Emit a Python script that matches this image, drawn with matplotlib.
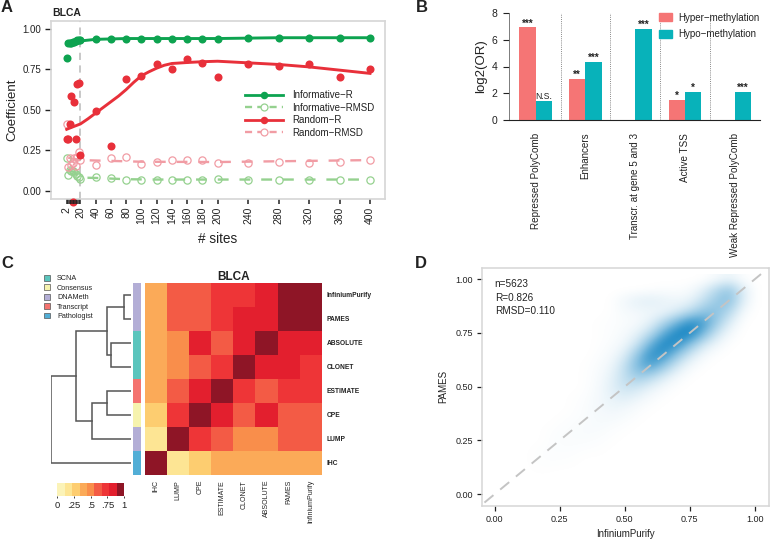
import numpy as np
import matplotlib
matplotlib.use("Agg")
import matplotlib.pyplot as plt
from matplotlib.colors import ListedColormap, BoundaryNorm, LinearSegmentedColormap
from matplotlib.lines import Line2D
from matplotlib.patches import Patch

plt.rcParams['font.family'] = ['Liberation Sans', 'DejaVu Sans']

W, H = 770, 539

# panel A
sites = [2, 4, 6, 8, 10, 12, 14, 16, 18, 20, 40, 60, 80, 100, 120, 140, 160, 180, 200, 240, 280, 320, 360, 400]
site_ticks = [2, 20, 40, 60, 80, 100, 120, 140, 160, 180, 200, 240, 280, 320, 360, 400]
inf_r = [.82, .915, .91, .915, .92, .92, .925, .93, .93, .93, .94, .94, .94, .94, .94, .94, .94, .94, .94, .945, .945, .945, .945, .945]
inf_rmsd = [.205, .10, .13, .125, .12, .115, .105, .09, .085, .075, .085, .08, .07, .07, .07, .07, .07, .07, .075, .07, .07, .07, .07, .07]
ran_r = [.32, .32, .41, .585, -.07, .55, .32, .66, .665, .22, .49, .28, .69, .71, .78, .755, .815, .79, .70, .78, .77, .785, .70, .755]
ran_rmsd = [.415, .15, .20, .16, .17, .20, .155, .21, .24, .19, .16, .20, .21, .165, .18, .19, .19, .19, .175, .17, .18, .175, .18, .19]
inf_fit_x = [2, 10, 20, 40, 80, 120, 200, 280, 400]
inf_fit_y = [.915, .92, .925, .935, .94, .94, .94, .945, .945]
ran_fit_x = [2, 10, 20, 30, 40, 50, 60, 70, 80, 90, 100, 110, 120, 130, 140, 160, 180, 200, 240, 280, 320, 360, 400]
ran_fit_y = [.38, .395, .413, .445, .48, .515, .55, .585, .625, .67, .71, .735, .757, .775, .786, .792, .797, .80, .79, .78, .765, .745, .725]
inf_rmsd_fit_x = [4, 12, 20, 40, 80, 120, 400]
inf_rmsd_fit_y = [.13, .115, .082, .08, .072, .07, .07]
ran_rmsd_fit_x = [4, 20, 60, 100, 200, 400]
ran_rmsd_fit_y = [.205, .19, .185, .18, .178, .19]

# panel B
regions = ["Repressed PolyComb", "Enhancers", "Transcr. at gene 5 and 3", "Active TSS", "Weak Repressed PolyComb"]
hyper = [6.9, 3.07, 0, 1.5, 0]
hypo = [1.47, 4.35, 6.78, 2.1, 2.12]
hyper_sig = ["***", "**", "", "*", ""]
hypo_sig = ["N.S.", "***", "***", "*", "***"]

# panel C
methods = ["InfiniumPurify", "PAMES", "ABSOLUTE", "CLONET", "ESTIMATE", "CPE", "LUMP", "IHC"]
corr = [
    [.40, .60, .60, .70, .70, .80, 1.0, 1.0],
    [.40, .60, .60, .70, .80, .80, 1.0, 1.0],
    [.40, .50, .80, .60, .80, 1.0, .80, .80],
    [.40, .50, .60, .70, 1.0, .80, .80, .70],
    [.40, .60, .80, 1.0, .70, .60, .70, .70],
    [.30, .70, 1.0, .80, .60, .80, .60, .60],
    [.15, 1.0, .70, .60, .50, .50, .60, .60],
    [1.0, .15, .30, .40, .40, .40, .40, .40],
]
heat_colors = ['#FBF3B8', '#FDE594', '#FDCD70', '#FBAA58', '#F98E4B', '#F35B45', '#EE3537', '#E31F2E', '#8E1526']
source_names = ["SCNA", "Consensus", "DNAMeth", "Transcript", "Pathologist"]
source_colors = ['#5BC5BD', '#F6F3AE', '#B3AED6', '#F4736F', '#52AED6']
row_source = [2, 2, 0, 0, 3, 1, 2, 4]
# top-to-bottom row merges: (first position, second position, height of merge)
merges = [(0.5, 1.5, .08), (2.5, 3.5, .25), (1.0, 3.0, .30), (4.5, 5.5, .30), (5.0, 6.5, .49), (2.0, 5.75, .69), (3.875, 7.5, 1.0)]
merge_child_h = [(0, 0), (0, 0), (.08, .25), (0, 0), (.30, 0), (.30, .49), (.69, 0)]

# panel D, density: rows y=1.00 down to 0.05, columns x=0.00..1.00 by .05
density = [
    [0, 0, 0, 0, 0, 0, 0, 0, 0, 0, 0, 0, 0, 0, 0, 0, 0, .4, 1.0, .2, 0],
    [0, 0, 0, 0, 0, 0, 0, 0, 0, 0, 0, 0, .1, .2, .2, .4, 1.5, 4.0, 6.0, 2.0, 0],
    [0, 0, 0, 0, 0, 0, 0, 0, 0, .1, .8, 1.5, 1.7, 1.3, .9, 1.2, 3.2, 5.5, 6.5, 1.8, 0],
    [0, 0, 0, 0, 0, 0, 0, 0, 0, .1, .5, .7, .8, .9, 1.8, 3.6, 6.0, 6.5, 4.0, .6, 0],
    [0, 0, 0, 0, 0, 0, 0, 0, .1, .2, .3, .5, 1.4, 4.0, 7.5, 11.0, 10.0, 5.5, 1.8, .1, 0],
    [0, 0, 0, 0, 0, 0, 0, 0, .1, .2, .5, 1.3, 3.6, 8.5, 12.0, 12.5, 7.5, 2.8, .6, 0, 0],
    [0, 0, 0, 0, 0, 0, 0, 0, .1, .3, .8, 2.8, 8.0, 12.0, 11.0, 6.5, 2.6, .8, .1, 0, 0],
    [0, 0, 0, 0, 0, 0, 0, 0, .2, .5, 1.8, 6.0, 11.0, 10.5, 6.0, 2.4, .6, .1, 0, 0, 0],
    [0, 0, 0, 0, 0, 0, 0, .1, .3, .9, 3.2, 7.5, 9.5, 6.0, 2.4, .6, .1, 0, 0, 0, 0],
    [0, 0, 0, 0, 0, 0, 0, .1, .4, 1.3, 3.5, 5.5, 4.2, 2.0, .6, .1, 0, 0, 0, 0, 0],
    [0, 0, 0, 0, 0, 0, 0, .1, .5, 1.6, 3.0, 2.6, 1.3, .5, .1, 0, 0, 0, 0, 0, 0],
    [0, 0, 0, 0, 0, 0, .1, .2, .6, 1.3, 1.7, 1.0, .4, .1, 0, 0, 0, 0, 0, 0, 0],
    [0, 0, 0, 0, 0, 0, .1, .3, .6, .9, .7, .3, .1, 0, 0, 0, 0, 0, 0, 0, 0],
    [0, 0, 0, 0, 0, .1, .2, .3, .5, .5, .3, .1, 0, 0, 0, 0, 0, 0, 0, 0, 0],
    [0, 0, 0, 0, .1, .2, .3, .4, .4, .2, .1, 0, 0, 0, 0, 0, 0, 0, 0, 0, 0],
    [0, 0, 0, 0, .1, .3, .3, .3, .2, .1, 0, 0, 0, 0, 0, 0, 0, 0, 0, 0, 0],
    [0, 0, 0, .1, .2, .2, .2, .1, .1, 0, 0, 0, 0, 0, 0, 0, 0, 0, 0, 0, 0],
    [0, 0, 0, .1, .15, .15, .1, 0, 0, 0, 0, 0, 0, 0, 0, 0, 0, 0, 0, 0, 0],
    [0, 0, 0, .05, .05, 0, 0, 0, 0, 0, 0, 0, 0, 0, 0, 0, 0, 0, 0, 0, 0],
    [0, 0, 0, 0, 0, 0, 0, 0, 0, 0, 0, 0, 0, 0, 0, 0, 0, 0, 0, 0, 0],
]


def px_axes(left, top, right, bottom):
    return fig.add_axes([left / W, 1 - bottom / H, (right - left) / W, (bottom - top) / H])


GREEN, LGREEN, RED, PINK = '#0DA350', '#95D18F', '#E8303A', '#F19CA4'
GRAY = '#D6D6D6'
INK = '#222222'

fig = plt.figure(figsize=(W / 100, H / 100), dpi=100)

for label, x, y in [("A", 1, 7), ("B", 416, 7), ("C", 1, 264), ("D", 415, 263)]:
    fig.text(x / W, 1 - y / H, label, fontsize=12, fontweight='bold', ha='left', va='center', color=INK)

#-------------------------------------------------------------------------------
# A: coefficient against number of sites
ax = px_axes(51, 20.7, 385, 199)
ax.set_xlim(-18.6, 419.7)
ax.set_ylim(-.05, 1.05)
ax.axvline(20, color='#C4C4C4', lw=1.3, dashes=(4, 3), zorder=1)
ax.plot(inf_rmsd_fit_x, inf_rmsd_fit_y, color=LGREEN, lw=1.7, dashes=(4.6, 4.6), zorder=2)
ax.plot(ran_rmsd_fit_x, ran_rmsd_fit_y, color=PINK, lw=1.7, dashes=(4.6, 4.6), zorder=2)
ax.plot(sites, inf_rmsd, 'o', mfc='none', mec=LGREEN, ms=5.2, mew=.9, zorder=3)
ax.plot(sites, ran_rmsd, 'o', mfc='none', mec=PINK, ms=5.2, mew=.9, zorder=3)
ax.plot(sites, inf_r, 'o', color=GREEN, ms=5.8, mew=0, zorder=4)
ax.plot(sites, ran_r, 'o', color=RED, ms=5.8, mew=0, zorder=4)
# the one random-R value below the frame sits under the tick rug
ax.plot([s for s, v in zip(sites, ran_r) if v < 0], [v for v in ran_r if v < 0], 'o', color=RED, ms=5.8, mew=0, zorder=1, clip_on=False)
ax.plot(inf_fit_x, inf_fit_y, color=GREEN, lw=2.1, zorder=4)
ax.plot(ran_fit_x, ran_fit_y, color=RED, lw=2.1, zorder=4)
ax.set_xticks(site_ticks)
ax.set_xticks([4, 6, 8, 10, 12, 14, 16, 18], minor=True)
ax.tick_params(axis='x', which='both', length=3.5, width=1.1, color=INK, labelsize=7.5, labelrotation=90, pad=2, labelcolor=INK)
ax.set_yticks([0, .25, .5, .75, 1])
ax.set_yticklabels(["0.00", "0.25", "0.50", "0.75", "1.00"])
ax.tick_params(axis='y', length=4, width=1, color=INK, labelsize=7, labelcolor=INK, pad=3)
for s in ax.spines.values():
    s.set_color(GRAY)
    s.set_linewidth(1.2)
ax.set_xlabel("# sites", fontsize=9.8, color=INK, labelpad=5.5)
ax.set_ylabel("Coefficient", fontsize=9.5, color=INK, labelpad=3)
fig.text(52 / W, 1 - 13.5 / H, "BLCA", fontsize=7.5, fontweight='bold', va='center', color=INK)
handles = [
    Line2D([], [], color=GREEN, lw=2, marker='o', ms=5.4, mew=0),
    Line2D([], [], color=LGREEN, lw=1.7, dashes=(3, 2.2), marker='o', ms=5, mfc='white', mec=LGREEN, mew=.9),
    Line2D([], [], color=RED, lw=2, marker='o', ms=5.4, mew=0),
    Line2D([], [], color=PINK, lw=1.7, dashes=(3, 2.2), marker='o', ms=5, mfc='white', mec=PINK, mew=.9),
]
ax.legend(handles, ["Informative\u2212R", "Informative\u2212RMSD", "Random\u2212R", "Random\u2212RMSD"],
          loc='upper left', bbox_to_anchor=(.58, .61), frameon=False, fontsize=7.05, labelcolor=INK,
          handlelength=3.9, handletextpad=.95, labelspacing=.25, borderpad=0, borderaxespad=0)

#-------------------------------------------------------------------------------
# B: enrichment bars
ax = px_axes(509.3, 12.7, 759.5, 120.3)
ax.set_ylim(0, 8)
ax.set_xlim(-.53, 4.495)
pos = np.arange(len(regions))
ax.bar(pos - .165, hyper, width=.33, color='#F57575')
ax.bar(pos + .165, hypo, width=.33, color='#08B2BA')
for i in range(len(regions)):
    if hyper_sig[i]:
        ax.text(pos[i] - .165, hyper[i] - .08, hyper_sig[i], ha='center', va='bottom', fontsize=7, fontweight='bold', color=INK)
    ax.text(pos[i] + .165, hypo[i] - (.02 if hypo_sig[i] == "N.S." else .08), hypo_sig[i], ha='center', va='bottom',
            fontsize=6.2 if hypo_sig[i] == "N.S." else 7, fontweight='normal' if hypo_sig[i] == "N.S." else 'bold', color=INK)
    ax.axvline(i + .5, color='#888888', lw=.7, ls=(0, (1, 1.2)), zorder=0)
ax.set_xticks(pos)
ax.set_xticklabels(regions, rotation=90, fontsize=7.1, color=INK, va='top')
ax.tick_params(axis='x', length=0, pad=9)
ax.set_yticks([0, 2, 4, 6, 8])
ax.tick_params(axis='y', length=4.4, width=.8, color=INK, labelsize=7.5, labelcolor=INK, pad=4)
for name in ['top', 'right']:
    ax.spines[name].set_visible(False)
ax.spines['bottom'].set_color(INK)
ax.spines['left'].set_color('#666666')
ax.spines['left'].set_linewidth(.6)
ax.set_ylabel("log2(OR)", fontsize=9.5, color=INK, labelpad=3)
ax.legend([Patch(color='#F57575'), Patch(color='#08B2BA')], ["Hyper\u2212methylation", "Hypo\u2212methylation"],
          loc='upper left', bbox_to_anchor=(.60, 1.0), frameon=False, fontsize=7.05, labelcolor=INK,
          handlelength=1.27, handleheight=.82, handletextpad=.7, labelspacing=.66, borderpad=0, borderaxespad=0)

#-------------------------------------------------------------------------------
# C: heatmap with dendrogram
cmap = ListedColormap(heat_colors)
norm = BoundaryNorm(np.linspace(0, 1, 10), 9)
n = len(methods)
ax = px_axes(145, 282.7, 321.7, 475)
ax.pcolormesh(np.arange(n + 1), np.arange(n + 1), np.array(corr), cmap=cmap, norm=norm)
ax.set_xlim(0, n)
ax.set_ylim(n, 0)
ax.set_xticks(np.arange(n) + .5)
ax.set_xticklabels(methods[::-1], rotation=90, fontsize=5, color=INK)
ax.xaxis.set_tick_params(length=0, pad=3.5)
ax.yaxis.tick_right()
ax.set_yticks(np.arange(n) + .5)
ax.set_yticklabels(methods, fontsize=4.8, fontweight='bold', color=INK)
ax.yaxis.set_tick_params(length=0, pad=3.5)
for s in ax.spines.values():
    s.set_visible(False)
ax.set_title("BLCA", fontsize=8.5, fontweight='bold', color=INK, pad=2)

ax = px_axes(133.3, 282.7, 141, 475)
ax.pcolormesh([0, 1], np.arange(n + 1), np.array(row_source)[:, None], cmap=ListedColormap(source_colors), vmin=-.5, vmax=4.5)
ax.set_ylim(n, 0)
ax.axis('off')

ax = px_axes(51, 282.7, 130.7, 475)
for (a, b, h), (ha_, hb_) in zip(merges, merge_child_h):
    ax.plot([ha_, h, h, hb_], [a, a, b, b], color='#555555', lw=1.1, solid_joinstyle='miter')
ax.set_xlim(1.0, 0)
ax.set_ylim(n, 0)
ax.axis('off')
ax.legend([Patch(facecolor=c, edgecolor='#555555', lw=.5) for c in source_colors], source_names,
          loc='upper left', bbox_to_anchor=(-.088, 1.04), frameon=False, fontsize=5.2, labelcolor=INK,
          handlelength=.85, handleheight=.85, handletextpad=.95, labelspacing=.28, borderpad=0, borderaxespad=0)

ax = px_axes(57.3, 482.7, 124, 495.7)
ax.pcolormesh(np.linspace(0, 1, 10), [0, 1], (np.arange(9)[None, :] + .5) / 9, cmap=cmap, norm=norm)
ax.set_yticks([])
ax.set_xticks([0, .25, .5, .75, 1])
ax.set_xticklabels(["0", ".25", ".5", ".75", "1"], fontsize=6.8, color=INK)
ax.tick_params(axis='x', length=1.5, width=.6, pad=2, color=INK)
for s in ax.spines.values():
    s.set_visible(False)

#-------------------------------------------------------------------------------
# D: density of PAMES against InfiniumPurify
ax = px_axes(481.7, 267.7, 769, 505.7)
blues = LinearSegmentedColormap.from_list("blues", ['#FFFFFF', '#8CC3E2', '#0A7FC0'])
ax.imshow(np.array(density), extent=[-.025, 1.025, .025, 1.025], origin='upper', cmap=blues, vmin=0, vmax=12.5,
          interpolation='bicubic', aspect='auto', zorder=1)
ax.set_xlim(-.05, 1.055)
ax.set_ylim(-.054, 1.054)
ax.plot([-.1, 1.1], [-.1, 1.1], color='#C4C4C4', lw=1.4, dashes=(6, 4.5), zorder=2)
ax.set_xticks([0, .25, .5, .75, 1])
ax.set_yticks([0, .25, .5, .75, 1])
ax.set_xticklabels(["0.00", "0.25", "0.50", "0.75", "1.00"])
ax.set_yticklabels(["0.00", "0.25", "0.50", "0.75", "1.00"])
ax.tick_params(length=3.5, width=.9, color=INK, labelsize=6.5, labelcolor=INK, pad=3)
for s in ax.spines.values():
    s.set_color(GRAY)
    s.set_linewidth(1.1)
ax.set_xlabel("InfiniumPurify", fontsize=7, color=INK, labelpad=4)
ax.set_ylabel("PAMES", fontsize=7, color=INK, labelpad=5)
ax.text(.0, 1.0, "n=5623\nR=0.826\nRMSD=0.110", fontsize=7.2, color=INK, va='top', linespacing=1.45)

fig.savefig("out.png", dpi=100)
